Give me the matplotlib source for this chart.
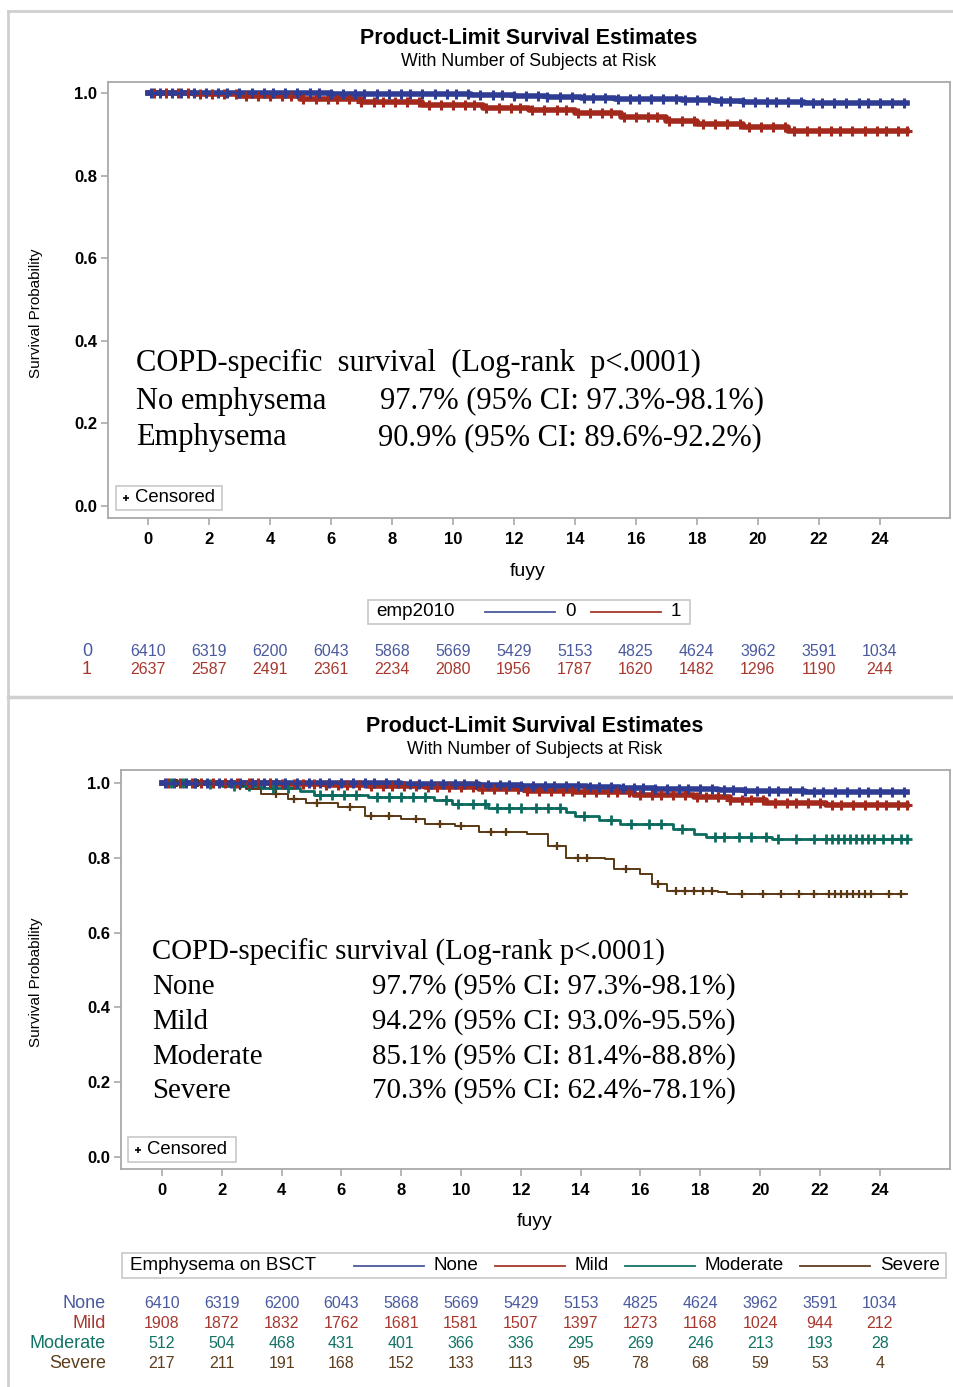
import numpy as np
import matplotlib
matplotlib.use("Agg")
import matplotlib.pyplot as plt
import matplotlib.transforms as mtransforms
from matplotlib.patches import Rectangle

plt.rcParams['font.family'] = ['Liberation Sans', 'DejaVu Sans']

W, H = 954, 1387

## data
risk_times = [0, 2, 4, 6, 8, 10, 12, 14, 16, 18, 20, 22, 24]
risk_none = [6410, 6319, 6200, 6043, 5868, 5669, 5429, 5153, 4825, 4624, 3962, 3591, 1034]
risk_emph = [2637, 2587, 2491, 2361, 2234, 2080, 1956, 1787, 1620, 1482, 1296, 1190, 244]
risk_mild = [1908, 1872, 1832, 1762, 1681, 1581, 1507, 1397, 1273, 1168, 1024, 944, 212]
risk_mod = [512, 504, 468, 431, 401, 366, 336, 295, 269, 246, 213, 193, 28]
risk_sev = [217, 211, 191, 168, 152, 133, 113, 95, 78, 68, 59, 53, 4]

# step curves (time, survival)
none_t = [0, 6.0, 8.0, 9.5, 10.6, 12.0, 13.1, 14.2, 15.3, 16.5, 17.5, 18.6, 19.5, 20.4, 21.5, 24.9]
none_s = [1.0, 0.999, 0.998, 0.997, 0.996, 0.993, 0.991, 0.989, 0.987, 0.985, 0.983, 0.981, 0.979, 0.978, 0.977, 0.977]

emph_t = [0, 1.5, 3.0, 5.0, 7.0, 9.0, 11.0, 12.5, 14.0, 15.5, 17.0, 18.0, 19.5, 21.0, 24.9]
emph_s = [1.0, 0.997, 0.992, 0.986, 0.979, 0.972, 0.965, 0.959, 0.952, 0.943, 0.932, 0.925, 0.918, 0.909, 0.909]

mild_t = [0, 2.0, 3.9, 5.5, 6.9, 8.8, 10.6, 12.2, 13.8, 15.8, 17.8, 19.0, 20.2, 22.2, 24.9]
mild_s = [1.0, 0.999, 0.997, 0.995, 0.993, 0.989, 0.984, 0.980, 0.975, 0.969, 0.962, 0.955, 0.948, 0.942, 0.942]

mod_t = [0, 1.4, 2.0, 3.3, 4.6, 5.1, 6.9, 9.1, 9.7, 10.9, 13.5, 13.8, 14.6, 15.3, 17.1, 17.8, 18.2, 20.4, 24.9]
mod_s = [1.0, 0.997, 0.993, 0.988, 0.980, 0.969, 0.963, 0.955, 0.944, 0.933, 0.922, 0.913, 0.900, 0.890, 0.877, 0.864, 0.855, 0.851, 0.851]

sev_t = [0, 1.6, 2.0, 2.8, 3.3, 4.2, 4.8, 5.9, 6.8, 8.0, 8.8, 9.8, 10.6, 12.2, 12.9, 13.5, 14.8, 15.1,
         16.0, 16.4, 16.9, 18.6, 18.9, 24.9]
sev_s = [1.0, 0.997, 0.993, 0.984, 0.971, 0.957, 0.948, 0.935, 0.913, 0.904, 0.890, 0.886, 0.868, 0.864,
         0.832, 0.800, 0.797, 0.770, 0.757, 0.730, 0.712, 0.708, 0.703, 0.703]

# censoring times
none_cens = [0.1, 0.4, 0.8, 1.1, 1.5, 1.9, 2.3, 2.6, 3.0, 3.4, 3.8, 4.1, 4.5, 4.9, 5.3, 5.6, 6.0, 6.4,
             6.8, 7.1, 7.5, 7.9, 8.3, 8.6, 9.0, 9.4, 9.8, 10.1, 10.5, 10.9, 11.3, 11.6, 12.0, 12.4,
             12.8, 13.1, 13.5, 13.9, 14.3, 14.6, 15.0, 15.4, 15.8, 16.1, 16.5, 16.9, 17.3, 17.6,
             18.0, 18.4, 18.8, 19.1, 19.5, 19.9, 20.3, 20.6, 21.0, 21.4, 21.8, 22.1, 22.5, 22.9,
             23.3, 23.6, 24.0, 24.4, 24.8]
emph_cens = [0.2, 0.6, 1.0, 1.3, 1.7, 2.1, 2.5, 2.9, 3.2, 3.6, 4.0, 4.4, 4.7, 5.1, 5.5, 5.9, 6.2,
             6.6, 7.0, 7.4, 7.7, 8.1, 8.5, 8.9, 9.2, 9.6, 10.0, 10.4, 10.7, 11.1, 11.5, 11.9, 12.2,
             12.6, 13.0, 13.4, 13.7, 14.1, 14.5, 14.9, 15.2, 15.6, 16.0, 16.4, 16.7, 17.1, 17.5,
             17.9, 18.2, 18.6, 19.0, 19.4, 19.7, 20.1, 20.5, 20.9, 21.2, 21.6, 22.0, 22.4, 22.7,
             23.1, 23.5, 23.9, 24.2, 24.6, 24.9]
mild_cens = emph_cens
mod_cens = [0.3, 0.7, 1.1, 1.6, 2.4, 2.9, 3.7, 4.2, 5.3, 5.7, 6.1, 6.5, 7.2, 7.6, 8.0, 8.4, 8.8,
            9.5, 9.9, 10.4, 10.8, 11.2, 11.6, 12.0, 12.5, 12.9, 13.3, 14.1, 15.0, 15.7, 16.3, 16.7,
            17.4, 18.5, 18.8, 19.3, 19.7, 20.2, 20.6, 21.2, 21.8, 22.2, 22.4, 22.6, 22.8, 23.0,
            23.2, 23.4, 23.6, 23.8, 24.1, 24.4, 24.7, 24.9]
sev_cens = [0.5, 1.2, 2.6, 3.8, 4.4, 5.2, 6.3, 7.0, 7.6, 8.5, 9.3, 10.0, 11.0, 11.5, 13.2, 13.9,
            14.2, 15.5, 16.6, 17.2, 17.5, 17.8, 18.1, 18.4, 19.4, 20.1, 20.7, 21.3, 21.8, 22.3,
            22.5, 22.7, 22.9, 23.1, 23.3, 23.5, 23.7, 24.3, 24.7]

c_blue, c_red, c_teal, c_brown = '#2E3D93', '#A3291D', '#0B6B5E', '#5A3814'
t_blue, t_red, t_teal, t_brown = '#4A5A9E', '#A8382E', '#127264', '#5F3E1E'

fig = plt.figure(figsize=(W / 100, H / 100), dpi=100)
over = fig.add_axes([0, 0, 1, 1], zorder=5)
over.set_xlim(0, W)
over.set_ylim(H, 0)
over.axis('off')
over.patch.set_alpha(0)

# panel frames
frame = '#cfcfcf'
over.plot([8, 8], [11, 1387], color=frame, lw=2)
over.plot([8, 954], [11, 11], color=frame, lw=2)
over.plot([8, 954], [697, 697], color=frame, lw=2.5)


def px_axes(l, t, r, b):
    return fig.add_axes([l / W, 1 - b / H, (r - l) / W, (b - t) / H])


def style(ax, xlim, ylim):
    ax.set_xlim(*xlim)
    ax.set_ylim(*ylim)
    ax.set_xticks(risk_times)
    ax.set_yticks([0, 0.2, 0.4, 0.6, 0.8, 1.0])
    ax.set_yticklabels(['0.0', '0.2', '0.4', '0.6', '0.8', '1.0'])
    for sp in ax.spines.values():
        sp.set_color('#a9a9a9')
        sp.set_linewidth(1.3)
    ax.tick_params(axis='x', direction='out', length=5, width=1.2, color='#a9a9a9', labelsize=12, pad=5)
    ax.tick_params(axis='y', direction='out', length=5, width=1.2, color='#a9a9a9', labelsize=12, pad=3)
    for lab in ax.get_xticklabels() + ax.get_yticklabels():
        lab.set_fontweight('bold')


def km(ax, t, s, cens, col, lw, ms, mew):
    ax.step(t, s, where='post', color=col, lw=lw, zorder=3)
    idx = np.searchsorted(t, cens, side='right') - 1
    ax.plot(cens, np.array(s)[idx], ls='none', marker='+', ms=ms, mew=mew, color=col, zorder=4)


def headers(cx, ty):
    over.text(cx, ty, 'Product-Limit Survival Estimates', ha='center', va='center',
              fontsize=15.5, fontweight='bold')
    over.text(cx, ty + 23, 'With Number of Subjects at Risk', ha='center', va='center', fontsize=12.8)


def cens_box(l, t, r, b):
    over.add_patch(Rectangle((l, t), r - l, b - t, fill=False, ec='#c8c8c8', lw=1.2))
    over.plot([l + 10], [(t + b) / 2], marker='+', color='black', ms=5, mew=1.2)
    over.text(l + 19, (t + b) / 2, 'Censored', ha='left', va='center', fontsize=13.3)


def legend_box(l, t, r, b, title, items):
    over.add_patch(Rectangle((l, t), r - l, b - t, fill=False, ec='#c8c8c8', lw=1.2))
    cy = (t + b) / 2
    over.text(l + 8, cy, title, ha='left', va='center', fontsize=13.6)
    for x0, x1, col, lab in items:
        over.plot([x0, x1], [cy, cy], color=col, lw=1.3)
        over.text(x1 + 10, cy, lab, ha='left', va='center', fontsize=13.6)


def risk_rows(ax, rows, label_x, label_ha):
    tr = mtransforms.blended_transform_factory(ax.transData, over.transData)
    for y, lab, vals, col in rows:
        over.text(label_x, y, lab, ha=label_ha, va='center', fontsize=13, color=col)
        for t, v in zip(risk_times, vals):
            over.text(t, y, str(v), transform=tr, ha='center', va='center', fontsize=11.5, color=col)


serif = ['Liberation Serif', 'DejaVu Serif']

## top panel
ax1 = px_axes(108, 82, 950, 518)
style(ax1, (-1.31, 26.3), (-0.029, 1.027))
km(ax1, emph_t, emph_s, emph_cens, c_red, 4, 7, 2.2)
km(ax1, none_t, none_s, none_cens, c_blue, 4, 7, 2.2)
headers(529, 38)
over.text(36, 313, 'Survival Probability', rotation=90, ha='center', va='center', fontsize=11)
over.text(528, 571, 'fuyy', ha='center', va='center', fontsize=14)
cens_box(116, 486, 222, 510)
legend_box(368, 600, 690, 624, 'emp2010',
           [(485, 555, t_blue, '0'), (591, 661, t_red, '1')])
risk_rows(ax1, [(651, '0', risk_none, t_blue), (669, '1', risk_emph, t_red)], 87, 'center')

fs_top = 22
over.text(136, 363, 'COPD-specific  survival  (Log-rank  p<.0001)', ha='left', va='center',
          fontsize=fs_top, family=serif)
over.text(136, 401, 'No emphysema', ha='left', va='center', fontsize=fs_top, family=serif)
over.text(136, 438, 'Emphysema', ha='left', va='center', fontsize=fs_top, family=serif)
over.text(380, 401, '97.7% (95% CI: 97.3%-98.1%)', ha='left', va='center', fontsize=fs_top, family=serif)
over.text(378, 438, '90.9% (95% CI: 89.6%-92.2%)', ha='left', va='center', fontsize=fs_top, family=serif)

## bottom panel
ax2 = px_axes(121, 770, 950, 1169)
style(ax2, (-1.37, 26.35), (-0.032, 1.035))
km(ax2, sev_t, sev_s, sev_cens, c_brown, 1.4, 6, 1.6)
km(ax2, mod_t, mod_s, mod_cens, c_teal, 2, 6.5, 2)
km(ax2, mild_t, mild_s, mild_cens, c_red, 4, 7, 2.2)
km(ax2, none_t, none_s, none_cens, c_blue, 4, 7, 2.2)
headers(535, 726)
over.text(36, 982, 'Survival Probability', rotation=90, ha='center', va='center', fontsize=11)
over.text(535, 1222, 'fuyy', ha='center', va='center', fontsize=14)
cens_box(128, 1137, 236, 1162)
legend_box(122, 1253, 946, 1278, 'Emphysema on BSCT',
           [(354, 424, t_blue, 'None'), (495, 565, t_red, 'Mild'),
            (625, 695, t_teal, 'Moderate'), (800, 870, t_brown, 'Severe')])
risk_rows(ax2, [(1304, 'None', risk_none, t_blue), (1323, 'Mild', risk_mild, t_red),
                (1343, 'Moderate', risk_mod, t_teal), (1363, 'Severe', risk_sev, t_brown)],
          106, 'right')

labels2 = ['COPD-specific survival (Log-rank p<.0001)', 'None', 'Mild', 'Moderate', 'Severe']
vals2 = ['97.7% (95% CI: 97.3%-98.1%)', '94.2% (95% CI: 93.0%-95.5%)',
         '85.1% (95% CI: 81.4%-88.8%)', '70.3% (95% CI: 62.4%-78.1%)']
ys2 = [952, 987, 1022, 1057, 1091]
for y, lab in zip(ys2, labels2):
    over.text(152, y, lab, ha='left', va='center', fontsize=20.8, family=serif)
for y, v in zip(ys2[1:], vals2):
    over.text(372, y, v, ha='left', va='center', fontsize=20.8, family=serif)

fig.savefig('out.png', dpi=100)
